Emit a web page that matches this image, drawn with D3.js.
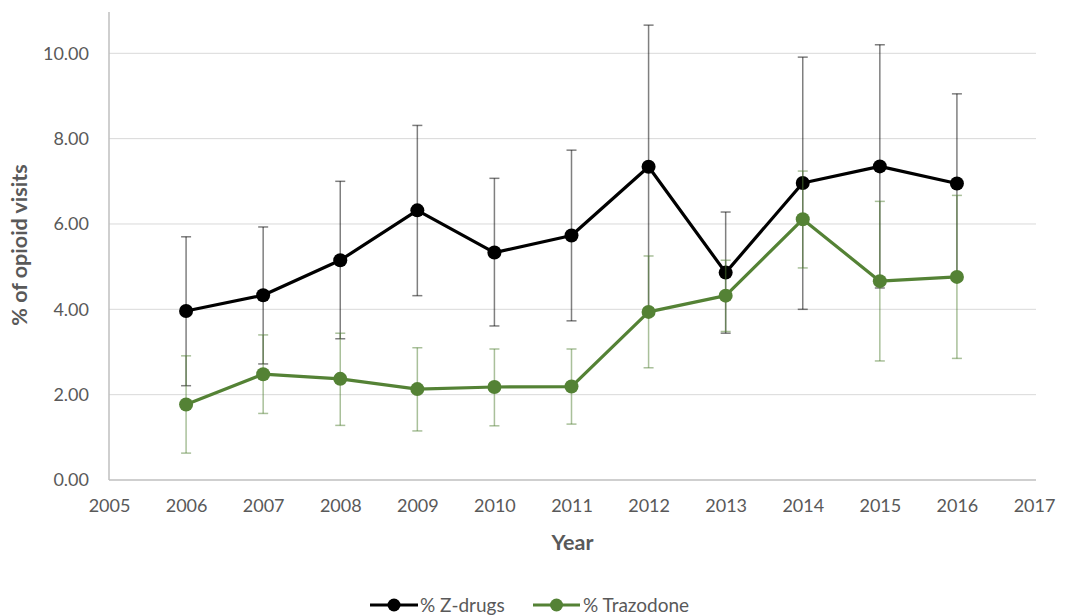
<!DOCTYPE html>
<html>
<head>
<meta charset="utf-8">
<script src="https://cdn.jsdelivr.net/npm/d3@7"></script>
<style>
  body { margin: 0; background: #fff; }
  svg { display: block; }
  text { font-family: Lato, "Open Sans", sans-serif; fill: #595959; }
</style>
</head>
<body>
<svg id="chart" width="1066" height="615"></svg>
<script>
// Share of opioid visits with a co-prescription, by year
const years = [2006, 2007, 2008, 2009, 2010, 2011, 2012, 2013, 2014, 2015, 2016];

const zValue = [3.96, 4.33, 5.15, 6.32, 5.33, 5.73, 7.34, 4.86, 6.96, 7.35, 6.95];
const zUpper = [5.70, 5.93, 7.00, 8.31, 7.07, 7.73, 10.66, 6.28, 9.91, 10.20, 9.05];
const zLower = [2.21, 2.72, 3.31, 4.32, 3.61, 3.73, 4.02, 3.44, 4.00, 4.50, 4.85];

const tValue = [1.77, 2.48, 2.37, 2.13, 2.18, 2.19, 3.94, 4.32, 6.11, 4.66, 4.76];
const tUpper = [2.91, 3.40, 3.44, 3.10, 3.07, 3.07, 5.25, 5.15, 7.24, 6.53, 6.67];
const tLower = [0.63, 1.56, 1.28, 1.15, 1.27, 1.31, 2.63, 3.48, 4.97, 2.79, 2.85];

const xTicks = [2005, 2006, 2007, 2008, 2009, 2010, 2011, 2012, 2013, 2014, 2015, 2016, 2017];
const yTicks = [0, 2, 4, 6, 8, 10];

const seriesNames = ["% Z-drugs", "% Trazodone"];
const seriesColors = ["#000000", "#548235"];

const svg = d3.select("#chart");

const plot = { left: 109, right: 1036, top: 12, bottom: 480 };

const x = d3.scaleLinear().domain([2005, 2017]).range([plot.left, 1034]);
const y = d3.scaleLinear().domain([0, 10]).range([plot.bottom, 53.3]);

// Horizontal gridlines
svg.append("g")
  .selectAll("line")
  .data(yTicks.filter(d => d > 0))
  .join("line")
  .attr("x1", plot.left).attr("x2", plot.right)
  .attr("y1", d => y(d)).attr("y2", d => y(d))
  .attr("stroke", "#d9d9d9").attr("stroke-width", 1);

// Y axis
const yAxis = svg.append("g")
  .attr("transform", `translate(${plot.left},0)`)
  .call(d3.axisLeft(y).tickValues(yTicks).tickFormat(d3.format(".2f")).tickSize(0).tickPadding(20));
yAxis.select(".domain").remove();
yAxis.selectAll("text").attr("font-size", 18).attr("fill", "#595959")
  .style("font-family", "Lato, 'Open Sans', sans-serif");
svg.append("line")
  .attr("x1", plot.left).attr("x2", plot.left)
  .attr("y1", plot.top).attr("y2", plot.bottom)
  .attr("stroke", "#bfbfbf").attr("stroke-width", 1.5);

// X axis
const xAxis = svg.append("g")
  .attr("transform", `translate(0,${plot.bottom})`)
  .call(d3.axisBottom(x).tickValues(xTicks).tickFormat(d3.format("d")).tickSize(0).tickPadding(19));
xAxis.select(".domain").remove();
xAxis.selectAll("text").attr("font-size", 18).attr("fill", "#595959")
  .style("font-family", "Lato, 'Open Sans', sans-serif");
svg.append("line")
  .attr("x1", plot.left).attr("x2", plot.right)
  .attr("y1", plot.bottom).attr("y2", plot.bottom)
  .attr("stroke", "#bfbfbf").attr("stroke-width", 1.5);

// Axis titles
svg.append("text")
  .attr("transform", `translate(27,245) rotate(-90)`)
  .attr("text-anchor", "middle")
  .attr("font-size", 21.5).attr("font-weight", "bold")
  .text("% of opioid visits");

svg.append("text")
  .attr("x", (plot.left + plot.right) / 2).attr("y", 550)
  .attr("text-anchor", "middle")
  .attr("font-size", 21.5).attr("font-weight", "bold")
  .text("Year");

const series = [
  { name: seriesNames[0], color: seriesColors[0], value: zValue, upper: zUpper, lower: zLower },
  { name: seriesNames[1], color: seriesColors[1], value: tValue, upper: tUpper, lower: tLower }
];

const capHalf = 5;

series.forEach(s => {
  const g = svg.append("g");
  const rows = years.map((yr, i) => ({ yr, v: s.value[i], hi: s.upper[i], lo: s.lower[i] }));

  // Error bars
  const eb = g.append("g")
    .attr("stroke", s.color).attr("stroke-opacity", 0.5).attr("stroke-width", 1.5);
  eb.selectAll("line.stem").data(rows).join("line").attr("class", "stem")
    .attr("x1", d => x(d.yr)).attr("x2", d => x(d.yr))
    .attr("y1", d => y(d.hi)).attr("y2", d => y(d.lo));
  eb.selectAll("line.capHi").data(rows).join("line").attr("class", "capHi")
    .attr("x1", d => x(d.yr) - capHalf).attr("x2", d => x(d.yr) + capHalf)
    .attr("y1", d => y(d.hi)).attr("y2", d => y(d.hi));
  eb.selectAll("line.capLo").data(rows).join("line").attr("class", "capLo")
    .attr("x1", d => x(d.yr) - capHalf).attr("x2", d => x(d.yr) + capHalf)
    .attr("y1", d => y(d.lo)).attr("y2", d => y(d.lo));

  // Line
  g.append("path")
    .datum(rows)
    .attr("fill", "none")
    .attr("stroke", s.color).attr("stroke-width", 3.2)
    .attr("stroke-linejoin", "round")
    .attr("d", d3.line().x(d => x(d.yr)).y(d => y(d.v)));

  // Markers
  g.selectAll("circle").data(rows).join("circle")
    .attr("cx", d => x(d.yr)).attr("cy", d => y(d.v))
    .attr("r", 7).attr("fill", s.color);
});

// Legend
const legendY = 605;
const legendItems = [
  { x0: 370, x1: 418, tx: 420 },
  { x0: 533, x1: 580, tx: 583 }
];
series.forEach((s, i) => {
  const L = legendItems[i];
  const lg = svg.append("g");
  lg.append("line")
    .attr("x1", L.x0).attr("x2", L.x1).attr("y1", legendY).attr("y2", legendY)
    .attr("stroke", s.color).attr("stroke-width", 3.2);
  lg.append("circle")
    .attr("cx", (L.x0 + L.x1) / 2).attr("cy", legendY).attr("r", 6.5).attr("fill", s.color);
  lg.append("text")
    .attr("x", L.tx).attr("y", legendY).attr("dy", "0.35em")
    .attr("font-size", 19)
    .text(s.name);
});
</script>
</body>
</html>
